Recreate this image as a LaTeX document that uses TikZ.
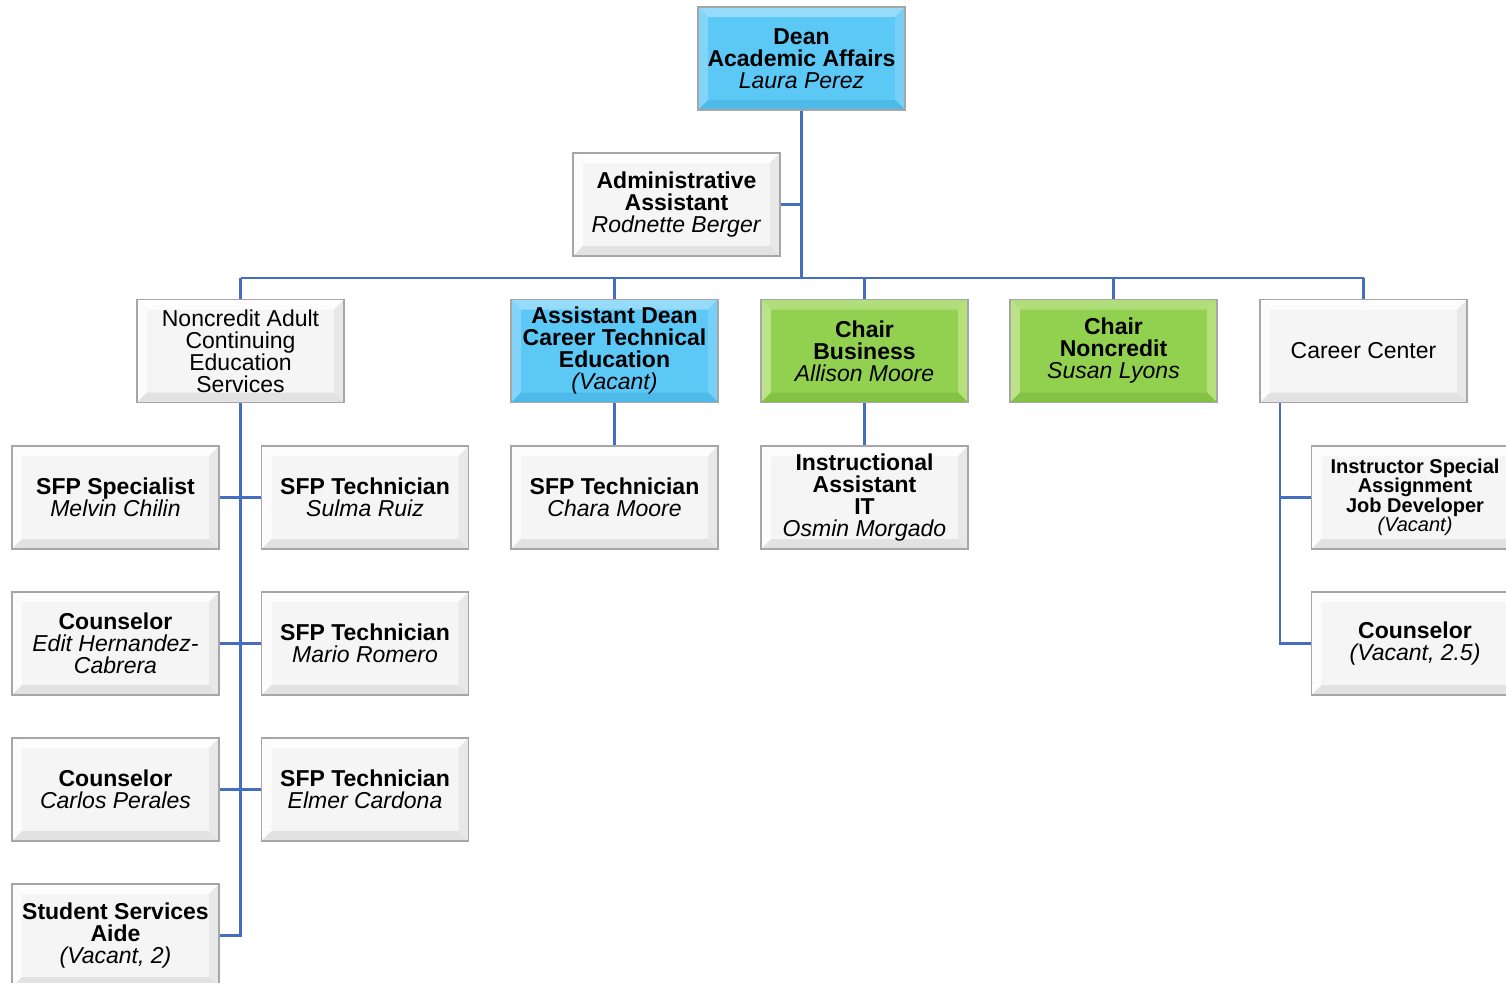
\documentclass[tikz,border=0pt]{standalone}
\usepackage{fontspec}
\setmainfont{Liberation Sans}
\definecolor{lineblue}{RGB}{70,110,192}
\definecolor{bbase}{RGB}{92,200,246}
\definecolor{btop}{RGB}{150,219,250}
\definecolor{bleft}{RGB}{130,212,248}
\definecolor{bright}{RGB}{118,207,247}
\definecolor{bbot}{RGB}{78,186,234}
\definecolor{gbase}{RGB}{146,208,80}
\definecolor{gtop}{RGB}{176,222,122}
\definecolor{gleft}{RGB}{188,227,138}
\definecolor{gright}{RGB}{182,224,122}
\definecolor{gbot}{RGB}{132,194,70}
\definecolor{wbase}{RGB}{245,245,245}
\definecolor{wtop}{RGB}{253,253,253}
\definecolor{wleft}{RGB}{252,252,252}
\definecolor{wright}{RGB}{232,232,232}
\definecolor{wbot}{RGB}{226,226,226}
\tikzset{
  bevbase/.style={draw=gray!70, line width=1.2pt, minimum width=207pt, minimum height=103pt,
    inner sep=0pt, align=center, font=\fontsize{23}{22}\selectfont},
  bev/.style n args={5}{bevbase, fill=#1, path picture={
    \fill[#2] (path picture bounding box.north west) -- (path picture bounding box.north east)
      -- ([shift={(-10pt,-10pt)}]path picture bounding box.north east)
      -- ([shift={(10pt,-10pt)}]path picture bounding box.north west) -- cycle;
    \fill[#3] (path picture bounding box.north west) -- (path picture bounding box.south west)
      -- ([shift={(10pt,10pt)}]path picture bounding box.south west)
      -- ([shift={(10pt,-10pt)}]path picture bounding box.north west) -- cycle;
    \fill[#4] (path picture bounding box.north east) -- (path picture bounding box.south east)
      -- ([shift={(-10pt,10pt)}]path picture bounding box.south east)
      -- ([shift={(-10pt,-10pt)}]path picture bounding box.north east) -- cycle;
    \fill[#5] (path picture bounding box.south west) -- (path picture bounding box.south east)
      -- ([shift={(-10pt,10pt)}]path picture bounding box.south east)
      -- ([shift={(10pt,10pt)}]path picture bounding box.south west) -- cycle;
  }},
  bluebox/.style={bev={bbase}{btop}{bleft}{bright}{bbot}},
  greenbox/.style={bev={gbase}{gtop}{gleft}{gright}{gbot}},
  whitebox/.style={bev={wbase}{wtop}{wleft}{wright}{wbot}},
  conn/.style={draw=lineblue, line width=2.6pt},
}
\begin{document}
\begin{tikzpicture}[x=1pt,y=-1pt]
\useasboundingbox (0,0) rectangle (1506,982);
\fill[white] (0,0) rectangle (1506,982);
\coordinate (bus) at (801,278);
\coordinate (ccx) at (1280,403);
% nodes
\node[bluebox] (dean) at (801.5,58.5) {\textbf{Dean}\\\textbf{Academic Affairs}\\\textit{Laura Perez}};
\node[whitebox] (admin) at (676.5,204.5) {\textbf{Administrative}\\\textbf{Assistant}\\\textit{Rodnette Berger}};
\node[whitebox] (nc) at (240.5,351) {Noncredit Adult\\Continuing\\Education\\Services};
\node[bluebox] (ad) at (614.5,351) {\textbf{Assistant Dean}\\\textbf{Career Technical}\\\textbf{Education}\\\textit{(Vacant)}};
\node[greenbox] (cb) at (864.5,351) {\textbf{Chair}\\\textbf{Business}\\\textit{Allison Moore}};
\node[greenbox] (cn) at (1113.5,351) {\textbf{Chair}\\\textbf{Noncredit}\\\textit{Susan Lyons}};
\node[whitebox] (cc) at (1363.5,351) {Career Center};
\node[whitebox] (spec) at (115.5,497.5) {\textbf{SFP Specialist}\\\textit{Melvin Chilin}};
\node[whitebox] (sulma) at (365,497.5) {\textbf{SFP Technician}\\\textit{Sulma Ruiz}};
\node[whitebox] (chara) at (614.5,497.5) {\textbf{SFP Technician}\\\textit{Chara Moore}};
\node[whitebox] (ia) at (864.5,497.5) {\textbf{Instructional}\\\textbf{Assistant}\\\textbf{IT}\\\textit{Osmin Morgado}};
\node[whitebox, font=\fontsize{20}{19.5}\selectfont] (isa) at (1415,497.5) {\textbf{Instructor Special}\\\textbf{Assignment}\\\textbf{Job Developer}\\\textit{(Vacant)}};
\node[whitebox] (edit) at (115.5,643.5) {\textbf{Counselor}\\\textit{Edit Hernandez-}\\\textit{Cabrera}};
\node[whitebox] (mario) at (365,643.5) {\textbf{SFP Technician}\\\textit{Mario Romero}};
\node[whitebox] (cons) at (1415,643.5) {\textbf{Counselor}\\\textit{(Vacant, 2.5)}};
\node[whitebox] (carlos) at (115.5,789.5) {\textbf{Counselor}\\\textit{Carlos Perales}};
\node[whitebox] (elmer) at (365,789.5) {\textbf{SFP Technician}\\\textit{Elmer Cardona}};
\node[whitebox] (ssa) at (115.5,935.5) {\textbf{Student Services}\\\textbf{Aide}\\\textit{(Vacant, 2)}};
% connectors
\draw[conn] (dean.south) -- (dean.south |- bus);
\draw[conn] (admin.east) -- (admin.east -| dean.south);
\draw[conn] (nc.north |- bus) -- (cc.north |- bus);
\draw[conn] (nc.north) -- (nc.north |- bus);
\draw[conn] (ad.north) -- (ad.north |- bus);
\draw[conn] (cb.north) -- (cb.north |- bus);
\draw[conn] (cn.north) -- (cn.north |- bus);
\draw[conn] (cc.north) -- (cc.north |- bus);
\draw[conn] (nc.south) |- (ssa.east);
\draw[conn] (spec.east) -- (sulma.west);
\draw[conn] (edit.east) -- (mario.west);
\draw[conn] (carlos.east) -- (elmer.west);
\draw[conn] (ad.south) -- (chara.north);
\draw[conn] (cb.south) -- (ia.north);
\draw[conn] (ccx) |- (cons.west);
\draw[conn] (ccx |- isa.west) -- (isa.west);
\end{tikzpicture}
\end{document}
